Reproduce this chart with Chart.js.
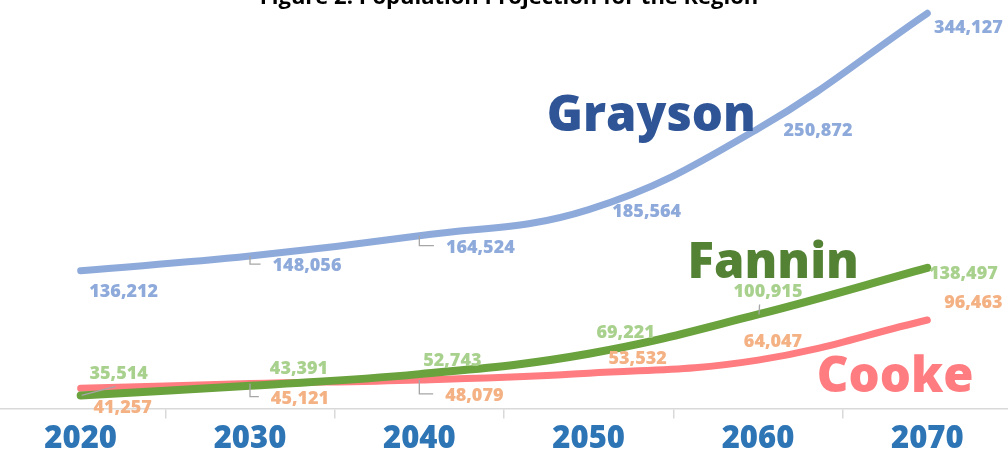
<!DOCTYPE html>
<html>
<head>
<meta charset="utf-8">
<script src="https://cdn.jsdelivr.net/npm/chart.js@4"></script>
<style>
  html, body { margin: 0; padding: 0; background: #fff; overflow: hidden; }
  #wrap { position: absolute; left: -10px; top: 0; width: 1030px; height: 456px; }
</style>
</head>
<body>
<div id="wrap"><canvas id="chart"></canvas></div>
<script>
// chart data
const years = ['2020', '2030', '2040', '2050', '2060', '2070'];
const grayson = [136212, 148056, 164524, 185564, 250872, 344127];
const fannin = [35514, 43391, 52743, 69221, 100915, 138497];
const cooke = [41257, 45121, 48079, 53532, 64047, 96463];

const titleText = 'Figure 2. Population Projection for the Region';

// label placement (offset of label centre from its point, px)
const graysonLabelOffsets = [[43, 21], [57, 10], [61, 12], [58, 2], [60, 2], [41, 15]];
const fanninLabelOffsets = [[38, -22], [49, -17], [33, -13], [37, -21], [10, -23], [36, 6]];
const cookeLabelOffsets = [[42, 20], [50, 15], [55, 16], [49, -14], [15, -18], [46, -17]];
const graysonLeaders = [null, 'L', 'L', null, null, null];
const fanninLeaders = ['D', null, null, null, 'D', null];
const cookeLeaders = [null, 'L', 'L', null, null, null];

// big series names, anchored in axis units (category index, value at baseline)
const seriesNames = [
  { text: 'Grayson', x: 3.37, y: 249000, color: '#2f5597' },
  { text: 'Fannin', x: 4.09, y: 130100, color: '#548235' },
  { text: 'Cooke', x: 4.81, y: 38600, color: '#ff7c80' }
];

const fmt = v => v.toLocaleString('en-US');

const labelPlugin = {
  id: 'valueLabels',
  afterDatasetsDraw(chart) {
    const ctx = chart.ctx;
    const xs = chart.scales.x, ys = chart.scales.y;
    ctx.save();

    // series names
    ctx.font = '800 49px "Open Sans"';
    ctx.textAlign = 'center';
    ctx.textBaseline = 'alphabetic';
    seriesNames.forEach(n => {
      ctx.fillStyle = n.color;
      ctx.fillText(n.text, xs.getPixelForValue(n.x), ys.getPixelForValue(n.y));
    });

    // value labels
    ctx.font = '800 18px "Open Sans"';
    ctx.textBaseline = 'middle';
    chart.data.datasets.forEach((ds, di) => {
      const meta = chart.getDatasetMeta(di);
      meta.data.forEach((pt, i) => {
        const [dx, dy] = ds.labelOffsets[i];
        const txt = fmt(ds.data[i]);
        const cx = pt.x + dx, cy = pt.y + dy;
        const w = ctx.measureText(txt).width;
        const lead = ds.leaders[i];
        if (lead) {
          ctx.strokeStyle = '#a6a6a6';
          ctx.lineWidth = 1.3;
          ctx.beginPath();
          if (lead === 'L') {
            ctx.moveTo(pt.x, pt.y);
            ctx.lineTo(pt.x, cy - 2);
            ctx.lineTo(cx - w / 2 - 12, cy - 2);
          } else {
            ctx.moveTo(pt.x + 1, pt.y);
            ctx.lineTo(cx - w / 2 + 26, cy + 13);
          }
          ctx.stroke();
        }
        ctx.fillStyle = ds.labelColor;
        ctx.fillText(txt, cx, cy);
      });
    });

    // title, cut at the top edge as in the picture
    ctx.font = 'bold 22px "Open Sans"';
    ctx.fillStyle = '#000';
    ctx.textBaseline = 'alphabetic';
    ctx.fillText(titleText, 519, 4);
    ctx.restore();
  }
};

new Chart(document.getElementById('chart'), {
  type: 'line',
  data: {
    labels: years,
    datasets: [
      { label: 'Grayson', data: grayson, borderColor: '#8eaadb', borderWidth: 7,
        labelColor: '#8eaadb', labelOffsets: graysonLabelOffsets, leaders: graysonLeaders },
      { label: 'Fannin', data: fannin, borderColor: '#6aa23e', borderWidth: 8,
        labelColor: '#a9d18e', labelOffsets: fanninLabelOffsets, leaders: fanninLeaders },
      { label: 'Cooke', data: cooke, borderColor: '#ff7c80', borderWidth: 7,
        labelColor: '#f4b183', labelOffsets: cookeLabelOffsets, leaders: cookeLeaders }
    ]
  },
  options: {
    responsive: true,
    maintainAspectRatio: false,
    animation: false,
    layout: { padding: { left: 6, right: 8, top: 6, bottom: 0 } },
    elements: {
      line: { tension: 0.4, borderCapStyle: 'round', fill: false },
      point: { radius: 0, hoverRadius: 0 }
    },
    plugins: { legend: { display: false }, tooltip: { enabled: false } },
    scales: {
      x: {
        offset: true,
        grid: { display: true, drawOnChartArea: false, drawTicks: true, tickLength: 10,
                color: '#d9d9d9', lineWidth: 1.5, offset: true },
        border: { color: '#d9d9d9', width: 1.5 },
        ticks: { color: '#2e75b6', padding: 2, font: { family: 'Open Sans', size: 31, weight: '800' } },
        afterFit(scale) { scale.height = 47.5; }
      },
      y: { display: false, min: 25000, max: 350000 }
    }
  },
  plugins: [labelPlugin]
});
</script>
</body>
</html>
